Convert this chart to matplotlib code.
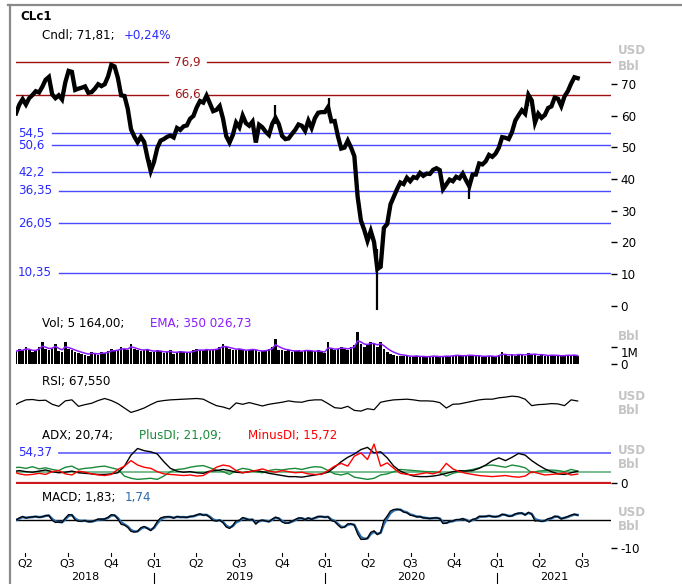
import matplotlib
matplotlib.use('Agg')
import matplotlib.pyplot as plt
import matplotlib.dates as mdates
from matplotlib.lines import Line2D
import numpy as np
import pandas as pd
from datetime import datetime

# ---------------- data ----------------
close = [60.7, 63.5, 65.2, 63.5, 65.5, 66.5, 67.7, 67.3, 69.1, 71.3, 72.2, 66.7, 65.5, 66.4, 65.1, 70.5,
         74.1, 73.8, 68.1, 68.5, 68.8, 69.2, 67.2, 67.4, 68.5, 69.9, 69.3, 69.9, 72.3, 76.0, 75.5, 71.9,
         66.4, 66.2, 62.2, 55.7, 53.4, 51.6, 53.3, 51.7, 46.8, 42.5,
         45.4, 49.8, 52.1, 52.6, 53.3, 53.7, 53.1, 56.1, 55.5, 56.6, 56.9, 59.0, 59.9, 62.6, 64.6, 64.1,
         66.3, 63.9, 61.4, 61.8, 63.0, 59.1, 53.5, 51.5, 53.9, 57.8, 56.3, 60.0, 57.6, 56.8, 58.1, 51.5,
         57.1, 56.3, 54.9, 53.9, 57.4, 59.3, 57.3, 53.6, 52.6, 52.8, 54.2, 55.5, 57.2, 56.8, 55.2, 58.4,
         56.1, 59.2, 60.9, 61.1, 61.1,
         62.7, 58.2, 58.3, 53.5, 49.6, 49.9, 52.1, 49.9, 47.2, 34.4, 26.9, 24.0, 20.5, 23.6, 20.1, 11.6,
         12.3, 24.6, 25.8, 32.0, 34.4, 36.8, 38.9, 38.4, 40.4, 39.3, 40.6, 40.3, 41.9, 41.0, 41.7, 41.6,
         42.9, 43.4, 42.8, 36.8, 38.3, 39.8, 39.3, 40.7, 40.2, 41.7, 39.6, 37.7, 41.4, 41.4, 44.9, 44.6,
         45.6, 47.6, 47.0, 48.0,
         49.9, 53.2, 53.0, 52.6, 54.8, 58.4, 60.1, 61.7, 60.6, 66.5, 64.8, 57.8, 60.6, 59.3, 60.2, 62.4,
         62.9, 65.7, 65.3, 63.0, 66.1, 67.7, 70.1, 72.1, 71.8]

volume_m = [0.75, 0.9, 0.8, 1.0, 0.85, 0.7, 0.8, 1.0, 1.3, 0.9, 0.8, 0.95, 1.2, 0.75, 0.7, 1.27, 0.9, 0.8,
            0.7, 0.65, 0.6, 0.55, 0.5, 0.7, 0.6, 0.55, 0.7, 0.65, 0.75, 0.9, 0.8, 0.85, 1.0, 0.9, 0.85,
            1.2, 0.9, 0.8, 0.75, 0.8, 0.9, 0.7,
            0.7, 0.8, 0.75, 0.65, 0.7, 0.8, 0.6, 0.7, 0.75, 0.7, 0.65, 0.7, 0.8, 0.9, 0.85, 0.8, 0.9, 0.8,
            0.85, 0.9, 1.0, 1.2, 1.0, 0.9, 0.85, 0.8, 0.9, 0.8, 0.75, 0.85, 0.9, 0.8, 0.7, 0.75, 0.8, 0.9,
            1.0, 1.5, 0.85, 0.8, 0.75, 0.8, 0.7, 0.75, 0.8, 0.7, 0.85, 0.8, 0.75, 0.7, 0.8, 0.7, 0.65,
            1.3, 0.9, 0.8, 0.9, 1.0, 0.9, 0.85, 1.0, 1.1, 1.9, 1.2, 1.0, 1.1, 1.3, 1.2, 1.0, 1.3, 0.9,
            0.7, 0.6, 0.55, 0.5, 0.45, 0.5, 0.45, 0.4, 0.45, 0.5, 0.4, 0.45, 0.4, 0.45, 0.5, 0.45, 0.4,
            0.45, 0.5, 0.45, 0.5, 0.55, 0.5, 0.45, 0.5, 0.55, 0.5, 0.45, 0.5, 0.4, 0.45, 0.5, 0.45, 0.4,
            0.55, 0.7, 0.55, 0.5, 0.55, 0.5, 0.6, 0.55, 0.5, 0.65, 0.55, 0.6, 0.5, 0.55, 0.5, 0.45, 0.55,
            0.5, 0.5, 0.45, 0.5, 0.55, 0.5, 0.55, 0.45]

wick_dates = ['2018-12-24', '2019-09-16', '2020-01-08', '2020-04-20', '2020-11-02', '2021-03-08']
wick_low = [42.4, 57.5, 59.6, -37.6, 33.6, 63.0]
wick_high = [46.0, 63.4, 65.6, 18.0, 38.0, 67.9]

rsi = [52, 63, 71, 72, 69, 70, 58, 52, 68, 71, 52, 57, 61, 69, 75, 69, 60, 47, 34, 40, 47, 57, 66, 69,
       71, 72, 73, 74, 75, 73, 63, 54, 50, 44, 62, 58, 63, 58, 53, 58, 61, 64, 68, 65, 64, 69, 71, 71,
       60, 48, 46, 52, 40, 38, 45, 42, 64, 68, 71, 72, 73, 71, 68, 68, 67, 63, 47, 58, 59, 63, 67, 71,
       73, 73, 77, 79, 82, 80, 73, 54, 57, 58, 60, 59, 54, 71, 67.6]

adx = [20, 22, 20, 19, 21, 23, 20, 18, 19, 21, 18, 17, 16, 15, 15, 16, 18, 30, 50, 62, 58, 56, 52, 38,
       26, 21, 19, 20, 18, 17, 21, 22, 24, 22, 19, 18, 20, 22, 20, 17, 15, 13, 11, 11, 10, 12, 14, 16,
       19, 28, 38, 46, 52, 60, 64, 54, 56, 45, 30, 21, 16, 12, 11, 11, 12, 14, 17, 20, 22, 21, 22, 26,
       32, 40, 45, 40, 46, 53, 50, 40, 32, 25, 20, 16, 15, 18, 20.7]
plus_di = [27, 28, 26, 29, 25, 27, 24, 22, 28, 30, 24, 26, 27, 29, 30, 27, 24, 12, 8, 6, 7, 8, 6, 12,
           20, 24, 25, 28, 30, 31, 27, 23, 20, 15, 22, 26, 24, 20, 18, 22, 24, 23, 25, 26, 24, 27, 29, 28,
           22, 16, 14, 17, 10, 8, 6, 8, 14, 16, 20, 24, 23, 22, 21, 20, 20, 18, 12, 17, 20, 22, 24, 27,
           31, 32, 30, 28, 32, 30, 27, 18, 21, 22, 23, 22, 20, 24, 21.1]
minus_di = [20, 16, 14, 15, 17, 15, 20, 22, 16, 14, 21, 19, 16, 14, 13, 15, 24, 30, 40, 32, 28, 26, 20, 16,
            15, 14, 13, 14, 12, 13, 20, 28, 32, 30, 22, 18, 20, 22, 25, 21, 19, 22, 20, 18, 19, 16, 15, 15,
            22, 30, 35, 30, 48, 54, 42, 70, 30, 36, 26, 17, 15, 14, 16, 18, 16, 20, 35, 25, 20, 17, 15, 13,
            12, 11, 12, 13, 11, 10, 12, 20, 17, 14, 15, 16, 18, 14, 15.7]

levels_red = [76.9, 66.6]
levels_blue = [54.5, 50.6, 42.2, 36.35, 26.05, 10.35]
adx_level = 54.37
adx_mid_level = 20
price_ticks = [0, 10, 20, 30, 40, 50, 60, 70]
quarter_labels = ['Q2', 'Q3', 'Q4', 'Q1', 'Q2', 'Q3', 'Q4', 'Q1', 'Q2', 'Q3', 'Q4', 'Q1', 'Q2', 'Q3']
quarter_starts = ['2018-04-01', '2018-07-01', '2018-10-01', '2019-01-01', '2019-04-01', '2019-07-01',
                  '2019-10-01', '2020-01-01', '2020-04-01', '2020-07-01', '2020-10-01', '2021-01-01',
                  '2021-04-01', '2021-07-01']
years = [2018, 2019, 2020, 2021]

# ---------------- layout helpers ----------------
W, H = 682, 584
plt.rcParams['font.family'] = ['DejaVu Sans']
fig = plt.figure(figsize=(W / 100, H / 100), dpi=100)
FS = 8.6
GRAY = '#c4c4c4'

X0, X1 = 16, 611
REF = mdates.date2num(datetime(2019, 1, 1))
PPD = 0.4692
XLIM = (REF + (X0 - 154) / PPD, REF + (X1 - 154) / PPD)


def px_axes(y0, y1, x0=X0, x1=X1):
    ax = fig.add_axes([x0 / W, 1 - y1 / H, (x1 - x0) / W, (y1 - y0) / H])
    ax.set_facecolor('none')
    for s in ax.spines.values():
        s.set_visible(False)
    ax.set_xlim(*XLIM)
    ax.set_xticks([])
    return ax


def ylim_from(y0, y1, val_a, px_a, px_per_unit):
    return ((px_a - y1) / px_per_unit + val_a, (px_a - y0) / px_per_unit + val_a)


wdates = pd.date_range('2018-03-13', periods=len(close), freq='7D')
xw = mdates.date2num(wdates.to_pydatetime())
idates = pd.date_range(end='2021-06-22', periods=len(rsi), freq='14D')
xi = mdates.date2num(idates.to_pydatetime())
close_s = pd.Series(close)

# ---------------- price pane ----------------
ax = px_axes(45, 310)
ax.set_ylim(*ylim_from(45, 310, 0, 305.8, 3.17))
span = X1 - X0
for lv in levels_red:
    ax.axhline(lv, xmin=0, xmax=(168 - X0) / span, color='#a01010', lw=1.0, zorder=2)
    ax.axhline(lv, xmin=(207 - X0) / span, xmax=1, color='#a01010', lw=1.0, zorder=2)
    ax.text(XLIM[0] + (187 - X0) / PPD, lv, f'{lv:g}'.replace('.', ','),
            color='#a01818', fontsize=FS, ha='center', va='center', zorder=3)
for lv in levels_blue:
    lab = f'{lv:g}'.replace('.', ',')
    start = 52 if len(lab) <= 4 else 59
    ax.axhline(lv, xmin=(start - X0) / span, xmax=1, color='#4a4aff', lw=1.0, zorder=2)
    ax.text(XLIM[0] + (18 - X0) / PPD, lv, lab, color='#2a2aff', fontsize=FS, ha='left', va='center',
            zorder=3)
wx = mdates.date2num(pd.to_datetime(wick_dates).to_pydatetime())
ax.vlines(wx, wick_low, wick_high, color='black', lw=1.6, zorder=4)
ax.plot(xw, close, color='black', lw=3.1, solid_joinstyle='miter', zorder=5)
ax.yaxis.tick_right()
ax.set_yticks(price_ticks)
ax.set_yticklabels([str(t) for t in price_ticks])
ax.tick_params(axis='y', length=4, width=1, pad=3, labelsize=FS, colors='black')

# ---------------- volume pane ----------------
av = px_axes(330, 364)
av.set_ylim(0, 2.0)
av.bar(xw, volume_m, width=5.6, color='black', align='center', zorder=2)
ema = pd.Series(volume_m).ewm(span=4, adjust=False).mean()
av.plot(xw, ema, color='#8c1cff', lw=1.1, zorder=3)
av.yaxis.tick_right()
av.set_yticks([0, 1])
av.set_yticklabels(['0', '1M'])
av.tick_params(axis='y', length=4, width=1, pad=3, labelsize=FS)
av.get_yticklabels()[1].set_va('top')

# ---------------- RSI pane ----------------
ar = px_axes(390, 424)
ar.set_ylim(0, 100)
ar.plot(xi, rsi, color='black', lw=0.9)
ar.set_yticks([])

# ---------------- ADX pane ----------------
aa = px_axes(440, 484)
aa.set_ylim(*ylim_from(440, 484, 0, 482.7, 0.552))
aa.axhline(adx_level, xmin=(59 - X0) / span, xmax=1, color='#6a6aff', lw=1.3, zorder=1)
aa.axhline(adx_mid_level, color='#5fb07a', lw=1.2, zorder=1)
aa.axhline(0, color='#cc1a1a', lw=1.6, zorder=1)
aa.text(XLIM[0] + (18 - X0) / PPD, adx_level, f'{adx_level:g}'.replace('.', ','), color='#2a2aff',
        fontsize=FS, ha='left', va='center')
aa.plot(xi, plus_di, color='#1a8a3a', lw=1.0, zorder=2)
aa.plot(xi, adx, color='black', lw=1.0, zorder=3)
aa.plot(xi, minus_di, color='#ff0000', lw=1.0, zorder=4)
aa.yaxis.tick_right()
aa.set_yticks([0])
aa.set_yticklabels(['0'])
aa.tick_params(axis='y', length=4, width=1, pad=3, labelsize=FS)

# ---------------- MACD pane ----------------
am = px_axes(495, 550)
am.set_ylim(*ylim_from(495, 550, 0, 520, 2.8))
fast = close_s.ewm(span=12 / 5, adjust=False).mean()
slow = close_s.ewm(span=26 / 5, adjust=False).mean()
macd = fast - slow
signal = macd.ewm(span=9 / 5, adjust=False).mean()
am.axhline(0, color='black', lw=1.0, zorder=1)
am.plot(xw, signal, color='#2a6aa8', lw=1.8, zorder=2)
am.plot(xw, macd, color='black', lw=0.9, zorder=3)
am.yaxis.tick_right()
am.set_yticks([-10])
am.set_yticklabels(['-10'])
am.tick_params(axis='y', length=4, width=1, pad=3, labelsize=FS)

# ---------------- time axis ----------------
ab = px_axes(550, 584)
ab.set_ylim(584, 550)
ab.set_yticks([])
qx = mdates.date2num(pd.to_datetime(quarter_starts).to_pydatetime())
for q, lab in zip(qx, quarter_labels):
    ab.plot([q, q], [553, 556], color='black', lw=0.8, clip_on=False)
    ab.text(q, 563.5, lab, ha='center', va='center', fontsize=8.0, clip_on=False)
    if lab == 'Q1':
        ab.plot([q, q], [573, 584], color='black', lw=0.8, clip_on=False)
for yr in years:
    a = max(mdates.date2num(datetime(yr, 1, 1)), XLIM[0])
    b = min(mdates.date2num(datetime(yr + 1, 1, 1)), XLIM[1])
    ab.text((a + b) / 2, 577.5, str(yr), ha='center', va='center', fontsize=8.0, clip_on=False)

# ---------------- overlay texts / frame ----------------
ov = fig.add_axes([0, 0, 1, 1])
ov.set_xlim(0, W)
ov.set_ylim(H, 0)
ov.axis('off')
ov.set_facecolor('none')
ov.add_line(Line2D([8, W], [5, 5], color='#8a8a8a', lw=1.6))
ov.add_line(Line2D([9.5, 9.5], [5, H], color='#8a8a8a', lw=1.6))

ov.text(20, 17, 'CLc1', fontsize=FS, fontweight='bold', va='center')
ov.text(42, 35.5, 'Cndl; 71,81; ', fontsize=FS, va='center')
ov.text(124, 35.5, '+0,24%', fontsize=FS, va='center', color='#2a2aff')
ov.text(42, 323, 'Vol; 5 164,00;', fontsize=FS, va='center')
ov.text(150, 323, 'EMA; 350 026,73', fontsize=FS, va='center', color='#8c1cff')
ov.text(42, 382, 'RSI; 67,550', fontsize=FS, va='center')
ov.text(42, 436, 'ADX; 20,74;', fontsize=FS, va='center')
ov.text(139, 436, 'PlusDI; 21,09;', fontsize=FS, va='center', color='#1a8a3a')
ov.text(248, 436, 'MinusDI; 15,72', fontsize=FS, va='center', color='#ff0000')
ov.text(42, 497, 'MACD; 1,83; ', fontsize=FS, va='center')
ov.text(125, 497, '1,74', fontsize=FS, va='center', color='#2a6aa8')

for (yu, yb) in [(51, 66), (None, 337), (397, 411), (450, 464), (512, 527)]:
    if yu is not None:
        ov.text(618, yu, 'USD', fontsize=FS, fontweight='bold', color=GRAY, va='center')
    ov.text(618, yb, 'Bbl', fontsize=FS, fontweight='bold', color=GRAY, va='center')

fig.savefig('out.png', dpi=100)
